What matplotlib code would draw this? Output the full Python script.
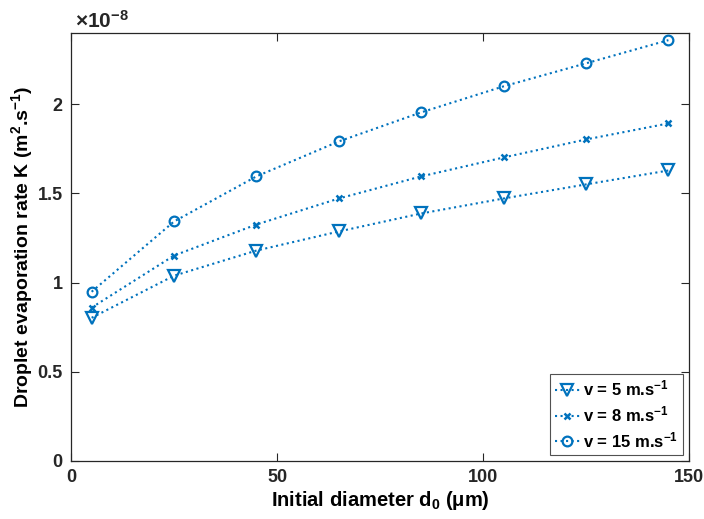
import matplotlib
matplotlib.use("Agg")
import matplotlib.pyplot as plt

plt.rcParams['font.family'] = ['Liberation Sans', 'DejaVu Sans']
plt.rcParams['font.weight'] = 'bold'
plt.rcParams['mathtext.fontset'] = 'custom'
plt.rcParams['mathtext.rm'] = 'Liberation Sans:bold'
plt.rcParams['mathtext.it'] = 'Liberation Sans:bold'
plt.rcParams['mathtext.bf'] = 'Liberation Sans:bold'
plt.rcParams['mathtext.default'] = 'bf'

# evaporation rate K in units of 1e-8 m^2/s
diameter = [5, 25, 45, 65, 85, 105, 125, 145]
k_v5 = [0.803, 1.039, 1.180, 1.287, 1.388, 1.472, 1.551, 1.629]
k_v8 = [0.860, 1.152, 1.326, 1.472, 1.596, 1.702, 1.803, 1.893]
k_v15 = [0.949, 1.343, 1.596, 1.792, 1.955, 2.101, 2.230, 2.360]
labels = ['v = 5 m.s$^{-1}$', 'v = 8 m.s$^{-1}$', 'v = 15 m.s$^{-1}$']
xticks = [0, 50, 100, 150]
yticks = [0, 0.5, 1, 1.5, 2]
ytick_labels = ['0', '0.5', '1', '1.5', '2']

color = '#0072BD'
fig = plt.figure(figsize=(7.04, 5.19), dpi=100)
ax = fig.add_axes([0.1009, 0.1118, 0.8778, 0.8246])

ax.plot(diameter, k_v5, linestyle=':', color=color, lw=1.5,
        marker='v', ms=8.5, mfc='none', mew=1.6, label=labels[0])
ax.plot(diameter, k_v8, linestyle=':', color=color, lw=1.5,
        marker='x', ms=5, mew=1.8, label=labels[1])
ax.plot(diameter, k_v15, linestyle=':', color=color, lw=1.5,
        marker='o', ms=7, mfc='none', mew=1.6, label=labels[2])

ax.set_xlim(0, 150)
ax.set_ylim(0, 2.4)
ax.set_xticks(xticks)
ax.set_yticks(yticks)
ax.set_yticklabels(ytick_labels)

ax.text(0.006, 1.012, r'$\times$10$^{-8}$', transform=ax.transAxes, fontsize=15,
        fontweight='bold', ha='left', va='baseline', color='#262626')

ax.tick_params(direction='in', length=6, width=0.8, labelsize=13, colors='#262626',
               top=True, right=True, pad=6)
for lab in ax.get_xticklabels() + ax.get_yticklabels():
    lab.set_fontweight('bold')
for sp in ax.spines.values():
    sp.set_color('#262626')
    sp.set_linewidth(0.9)

ax.set_xlabel('Initial diameter d$_0$ (μm)', fontsize=14.5, fontweight='bold', labelpad=2)
ax.set_ylabel('Droplet evaporation rate K (m$^2$.s$^{-1}$)', fontsize=14, fontweight='bold', labelpad=1.5)

leg = ax.legend(loc='lower right', fontsize=12, frameon=True, fancybox=False,
                borderaxespad=0.35, handlelength=1.5, handletextpad=0.2,
                labelspacing=0.35, borderpad=0.3)
leg.get_frame().set_edgecolor('#262626')
leg.get_frame().set_linewidth(0.8)
for t in leg.get_texts():
    t.set_fontweight('bold')

fig.savefig('out.png', dpi=100)
